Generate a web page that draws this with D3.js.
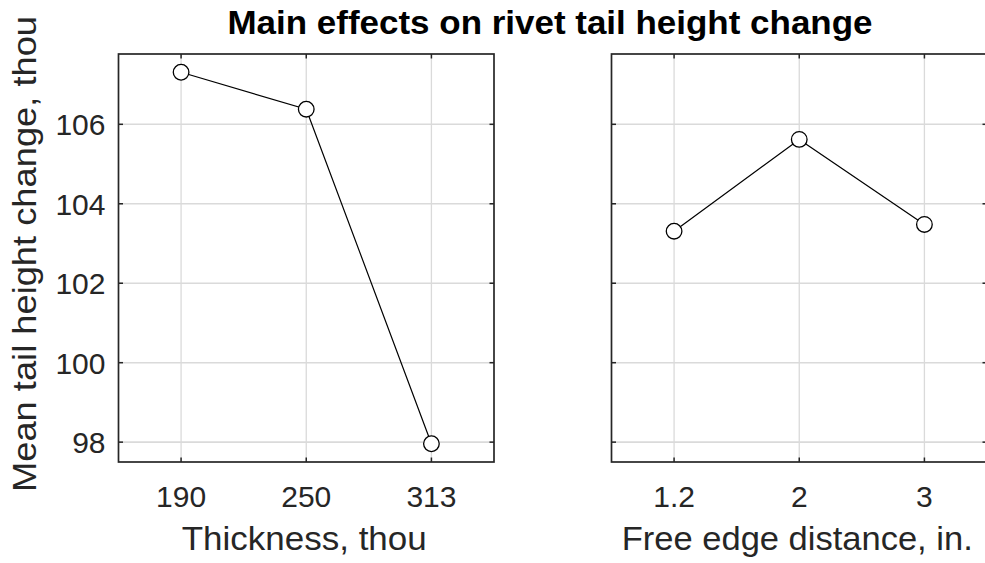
<!DOCTYPE html>
<html>
<head>
<meta charset="utf-8">
<script src="https://cdn.jsdelivr.net/npm/d3@7"></script>
<style>
  html, body { margin: 0; padding: 0; background: #fff; }
  svg { display: block; }
  text { font-family: "Liberation Sans", Arial, Helvetica, sans-serif; fill: #262626; }
</style>
</head>
<body>
<svg id="chart" width="985" height="563"></svg>
<script>
// Factor levels and mean responses for each main effect
const thicknessLevels = ["190", "250", "313"];
const thicknessMeans = [107.31, 106.38, 97.96];
const edgeLevels = ["1.2", "2", "3"];
const edgeMeans = [103.31, 105.62, 103.48];
const yTicks = [98, 100, 102, 104, 106];

const titleText = "Main effects on rivet tail height change";
const yLabelText = "Mean tail height change, thou";

const svg = d3.select("#chart");
const W = 985, H = 563;
svg.append("rect").attr("width", W).attr("height", H).attr("fill", "#fff");

const plotTop = 54, plotBottom = 462;
const y = d3.scaleLinear().domain([97.5, 107.77]).range([plotBottom, plotTop]);

const panels = [
  { left: 118.5, right: 494, levels: thicknessLevels, means: thicknessMeans, xLabel: "Thickness, thou", labelLen: 245, yLabels: true },
  { left: 611.5, right: 987, levels: edgeLevels, means: edgeMeans, xLabel: "Free edge distance, in.", labelLen: 351, yLabels: false }
];

const axisColor = "#262626";
const gridColor = "#dadada";

panels.forEach(p => {
  const x = d3.scalePoint().domain(p.levels).range([p.left, p.right]).padding(0.5);
  const g = svg.append("g");

  // grid
  g.selectAll(".vg").data(p.levels).enter().append("line")
    .attr("x1", d => x(d)).attr("x2", d => x(d))
    .attr("y1", plotTop).attr("y2", plotBottom)
    .attr("stroke", gridColor).attr("stroke-width", 1.3);
  g.selectAll(".hg").data(yTicks).enter().append("line")
    .attr("x1", p.left).attr("x2", p.right)
    .attr("y1", d => y(d)).attr("y2", d => y(d))
    .attr("stroke", gridColor).attr("stroke-width", 1.6);

  // inward ticks on all four sides
  const tl = 4.5;
  const tickG = g.append("g").attr("stroke", axisColor).attr("stroke-width", 1.5);
  p.levels.forEach(d => {
    tickG.append("line").attr("x1", x(d)).attr("x2", x(d)).attr("y1", plotBottom).attr("y2", plotBottom - tl);
    tickG.append("line").attr("x1", x(d)).attr("x2", x(d)).attr("y1", plotTop).attr("y2", plotTop + tl);
  });
  yTicks.forEach(d => {
    tickG.append("line").attr("x1", p.left).attr("x2", p.left + tl).attr("y1", y(d)).attr("y2", y(d));
    tickG.append("line").attr("x1", p.right).attr("x2", p.right - tl).attr("y1", y(d)).attr("y2", y(d));
  });

  // box
  g.append("rect")
    .attr("x", p.left).attr("y", plotTop)
    .attr("width", p.right - p.left).attr("height", plotBottom - plotTop)
    .attr("fill", "none").attr("stroke", axisColor).attr("stroke-width", 1.7);

  // x tick labels
  g.selectAll(".xt").data(p.levels).enter().append("text")
    .attr("x", d => x(d)).attr("y", 506.5)
    .attr("text-anchor", "middle").attr("font-size", 30)
    .text(d => d);

  // y tick labels
  if (p.yLabels) {
    g.selectAll(".yt").data(yTicks).enter().append("text")
      .attr("x", p.left - 13).attr("y", d => y(d) + 11)
      .attr("text-anchor", "end").attr("font-size", 30)
      .text(d => d);
  }

  // x axis label
  g.append("text")
    .attr("x", (p.left + p.right) / 2 - 2).attr("y", 550)
    .attr("text-anchor", "middle").attr("font-size", 33)
    .attr("textLength", p.labelLen).attr("lengthAdjust", "spacingAndGlyphs")
    .text(p.xLabel);

  // main-effect line and markers
  const pts = p.levels.map((d, i) => [x(d), y(p.means[i])]);
  g.append("path")
    .attr("d", d3.line()(pts))
    .attr("fill", "none").attr("stroke", "#000").attr("stroke-width", 1.2);
  g.selectAll(".pt").data(pts).enter().append("circle")
    .attr("cx", d => d[0]).attr("cy", d => d[1]).attr("r", 7.8)
    .attr("fill", "#fff").attr("stroke", "#000").attr("stroke-width", 1.3);
});

// y axis label
svg.append("text")
  .attr("transform", "translate(36,254) rotate(-90)")
  .attr("text-anchor", "middle").attr("font-size", 33)
  .attr("textLength", 476).attr("lengthAdjust", "spacingAndGlyphs")
  .text(yLabelText);

// title, centred over both panels
svg.append("text")
  .attr("x", 550).attr("y", 34)
  .attr("text-anchor", "middle").attr("font-size", 33).attr("font-weight", "bold")
  .style("fill", "#000")
  .attr("textLength", 645).attr("lengthAdjust", "spacingAndGlyphs")
  .text(titleText);
</script>
</body>
</html>
